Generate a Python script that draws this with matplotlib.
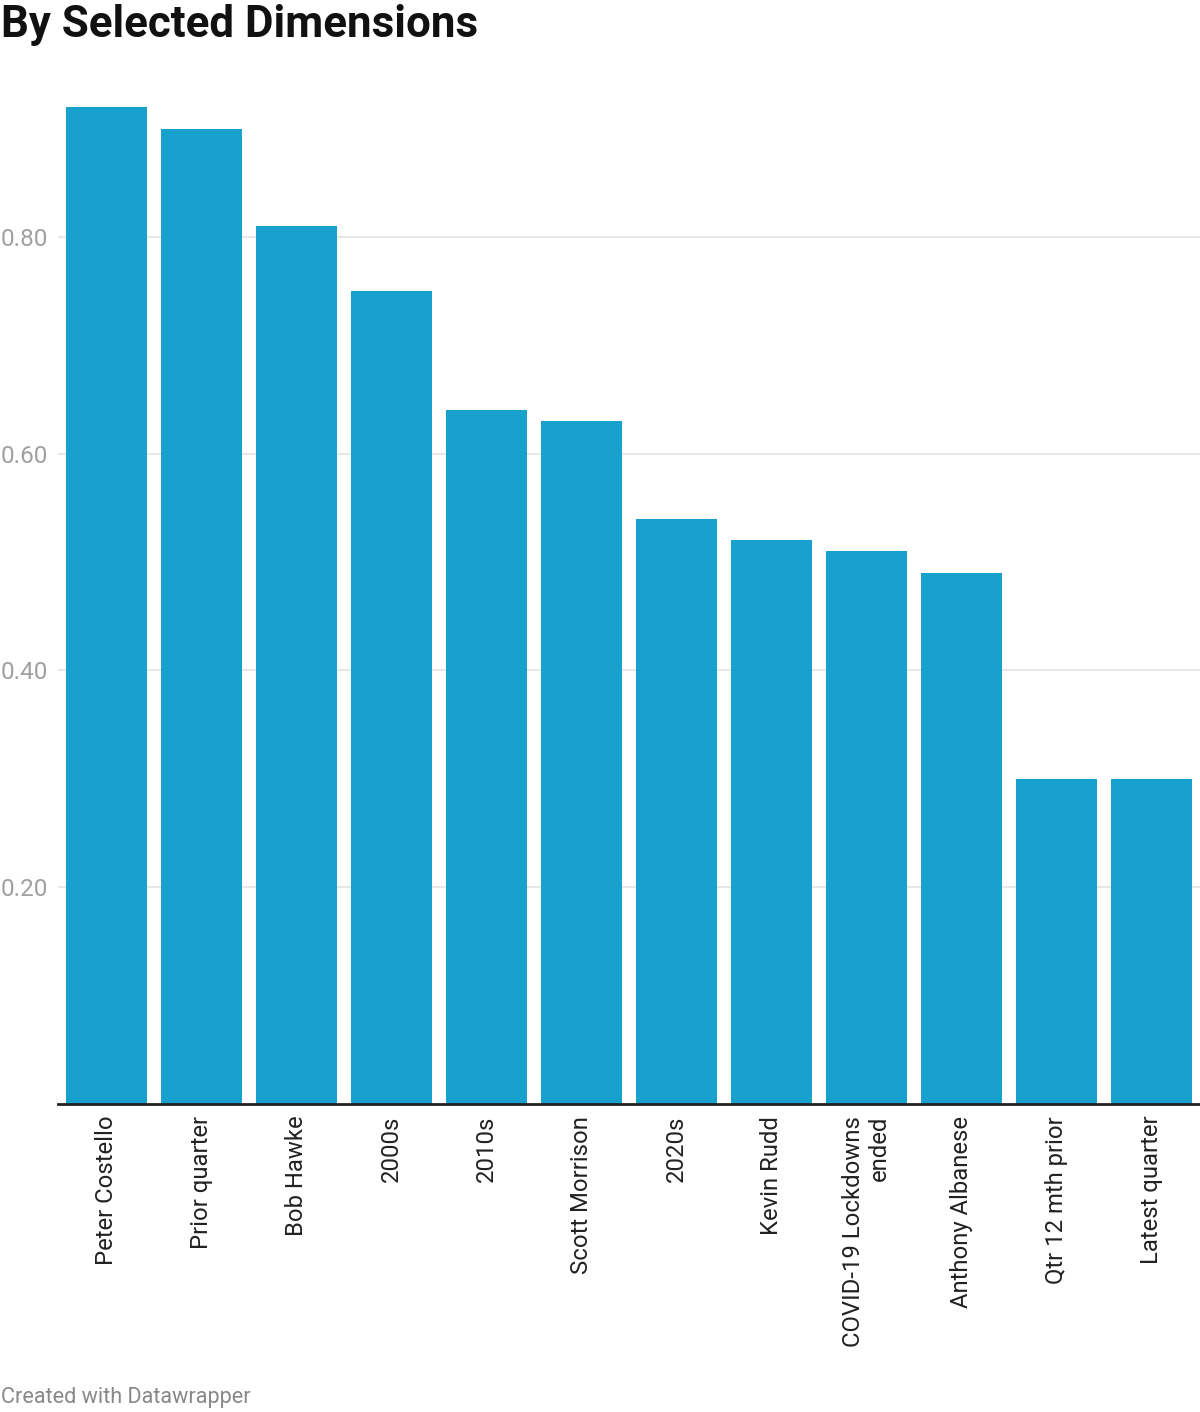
import matplotlib
matplotlib.use('Agg')
import matplotlib.pyplot as plt

# data
categories = ['Peter Costello', 'Prior quarter', 'Bob Hawke', '2000s', '2010s',
              'Scott Morrison', '2020s', 'Kevin Rudd', 'COVID-19 Lockdowns\nended',
              'Anthony Albanese', 'Qtr 12 mth prior', 'Latest quarter']
values = [0.92, 0.90, 0.81, 0.75, 0.64, 0.63, 0.54, 0.52, 0.51, 0.49, 0.30, 0.30]
yticks = [0.20, 0.40, 0.60, 0.80]

plt.rcParams['font.family'] = ['Roboto', 'DejaVu Sans']

fig = plt.figure(figsize=(12, 14.12), dpi=100)
ax = fig.add_axes([58 / 1200, (1412 - 1104) / 1412, (1200 - 58) / 1200, (1104 - 95) / 1412])

x = range(len(categories))
ax.bar(x, values, width=0.853, color='#18a1cd', zorder=2)

ax.set_xlim(-0.511, 11.51)
ax.set_ylim(0, 0.931)

# gridlines
ax.set_yticks(yticks)
ax.set_yticklabels([f'{t:.2f}' for t in yticks])
ax.yaxis.grid(True, color='#e3e3e3', linewidth=1.2, zorder=0)
ax.tick_params(axis='y', length=0, labelsize=17.5, labelcolor='#a0a0a0', pad=0)
for lbl in ax.get_yticklabels():
    lbl.set_horizontalalignment('left')
    lbl.set_x(-58 / (1200 - 58) + 1 / (1200 - 58))
    lbl.set_transform(ax.get_yaxis_transform())

ax.set_xticks(list(x))
ax.set_xticklabels(categories, rotation=90, ha='center', va='top',
                   multialignment='right', fontsize=17.2, color='#222222')
ax.tick_params(axis='x', length=0, pad=8.5)

for s in ['top', 'right', 'left']:
    ax.spines[s].set_visible(False)
ax.spines['bottom'].set_color('#222222')
ax.spines['bottom'].set_linewidth(2)
ax.spines['bottom'].set_zorder(3)

fig.text(1 / 1200, 1 - 25 / 1412, 'By Selected Dimensions', fontsize=31.6,
         fontweight='bold', ha='left', va='center', color='#111111')
fig.text(1 / 1200, 1 - 1398 / 1412, 'Created with Datawrapper', fontsize=15.6,
         ha='left', va='center', color='#888888')

fig.savefig('out.png', dpi=100)
